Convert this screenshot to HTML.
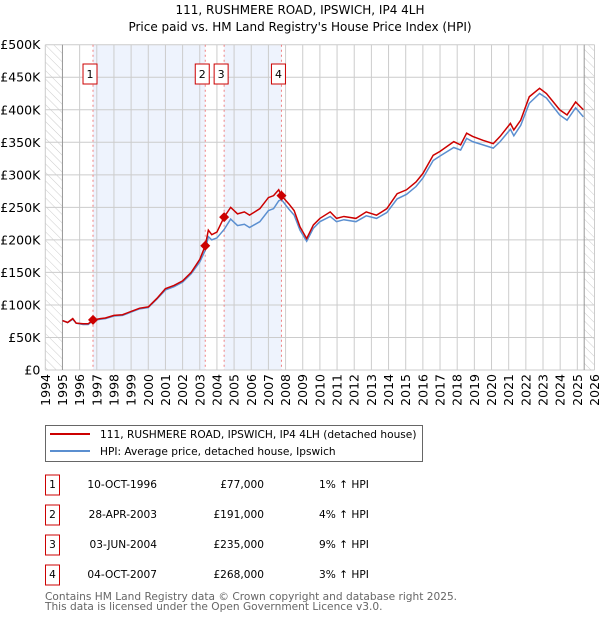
<!DOCTYPE html>
<html><head><meta charset="utf-8"><style>
body{margin:0;background:#fff}
svg{display:block;font-family:"DejaVu Sans","Liberation Sans",sans-serif}
</style></head><body>
<svg id="c" width="600" height="620" viewBox="0 0 600 620">
<defs><pattern id="hatch" width="6" height="6" patternUnits="userSpaceOnUse" patternTransform="rotate(-45)"><line x1="0" y1="0" x2="0" y2="6" stroke="#ccc" stroke-width="1"/></pattern></defs>
<text x="300" y="14" text-anchor="middle" font-size="12">111, RUSHMERE ROAD, IPSWICH, IP4 4LH</text>
<text x="300" y="31" text-anchor="middle" font-size="12">Price paid vs. HM Land Registry's House Price Index (HPI)</text>
<g id="plot"></g>
<rect x="45.5" y="425.5" width="377" height="36" fill="#fff" stroke="#666"/>
<line x1="50" y1="434" x2="90" y2="434" stroke="#cc0000" stroke-width="2"/>
<text x="100" y="438" font-size="10.6">111, RUSHMERE ROAD, IPSWICH, IP4 4LH (detached house)</text>
<line x1="50" y1="451" x2="90" y2="451" stroke="#5b8fd0" stroke-width="2"/>
<text x="100" y="455" font-size="10.6">HPI: Average price, detached house, Ipswich</text>
<g id="table" font-size="10.6"></g>
<text x="45" y="600" font-size="10.6" fill="#666">Contains HM Land Registry data © Crown copyright and database right 2025.</text>
<text x="45" y="610" font-size="10.6" fill="#666">This data is licensed under the Open Government Licence v3.0.</text>
</svg>
<script>
const redYears=[1995,1995.3,1995.6,1995.8,1996.2,1996.5,1996.78,1997.2,1997.5,1998,1998.5,1999,1999.5,2000,2000.5,2001,2001.5,2002,2002.5,2003,2003.32,2003.5,2003.7,2004,2004.42,2004.8,2005.2,2005.6,2005.9,2006.5,2007,2007.3,2007.6,2007.76,2008.2,2008.5,2008.84,2009.23,2009.62,2010.0,2010.6,2010.97,2011.4,2012.1,2012.7,2013.3,2013.9,2014.5,2015.05,2015.6,2016.0,2016.6,2017.0,2017.8,2018.2,2018.55,2018.9,2019.5,2020.1,2020.5,2021.1,2021.3,2021.7,2022.2,2022.8,2023.2,2023.97,2024.4,2024.9,2025.35];
const redVals=[76,73,79,72,71,71,77,79,80,84,85,90,95,97,110,125,130,137,150,170,191,215,208,212,235,250,240,243,238,248,265,268,277,268,255,245,220,202,223,233,243,233,236,233,243,238,248,271,277,289,302,330,336,351,346,364,359,353,348,359,379,369,384,420,433,425,400,392,412,400];
const hpiVals=[76,73,78,72,70,70,76,78,79,83,84,89,94,96,109,123,128,135,148,166,184,205,200,203,216,232,222,224,219,228,245,248,260,262,247,238,215,198,218,228,236,228,231,228,237,233,242,263,270,282,295,322,329,342,338,356,351,346,341,351,370,360,376,410,425,418,392,384,403,389];
const sales=[{n:'1',year:1996.78,val:77},{n:'2',year:2003.32,val:191},{n:'3',year:2004.42,val:235},{n:'4',year:2007.76,val:268}];
const saleDates=['10-OCT-1996','28-APR-2003','03-JUN-2004','04-OCT-2007'];
const salePrices=['£77,000','£191,000','£235,000','£268,000'];
const saleHpi=['1% ↑ HPI','4% ↑ HPI','9% ↑ HPI','3% ↑ HPI'];
const yTicks=[0,50,100,150,200,250,300,350,400,450,500];
const yTickLabels=['£0','£50K','£100K','£150K','£200K','£250K','£300K','£350K','£400K','£450K','£500K'];
const xYears=[1994,1995,1996,1997,1998,1999,2000,2001,2002,2003,2004,2005,2006,2007,2008,2009,2010,2011,2012,2013,2014,2015,2016,2017,2018,2019,2020,2021,2022,2023,2024,2025,2026];

const NS='http://www.w3.org/2000/svg';
const L=45.3,R=594.5,T=44.7,B=370;
const xs=y=>L+(y-1994)*(R-L)/32;
const ys=v=>B-v*(B-T)/500;
const plot=document.getElementById('plot');
function mk(tag,attrs,parent){const e=document.createElementNS(NS,tag);for(const k in attrs)e.setAttribute(k,attrs[k]);(parent||plot).appendChild(e);return e;}
let e;
e=mk('rect',{x:L,y:T,width:R-L,height:B-T,fill:'#fff'});


e=mk('rect',{x:xs(sales[0].year),y:T,width:xs(sales[1].year)-xs(sales[0].year),height:B-T,fill:'#eef3fd'});


e=mk('rect',{x:xs(sales[2].year),y:T,width:xs(sales[3].year)-xs(sales[2].year),height:B-T,fill:'#eef3fd'});


e=mk('rect',{x:L,y:T,width:xs(1995)-L,height:B-T,fill:'url(#hatch)'});


e=mk('rect',{x:xs(2025.4),y:T,width:R-xs(2025.4),height:B-T,fill:'url(#hatch)'});


yTicks.forEach((v,i)=>{
  e=mk('line',{x1:L,x2:R,y1:ys(v),y2:ys(v),stroke:'#ccc','stroke-width':1});
  
  
  e=mk('text',{x:L-5,y:ys(v)+4.5,'text-anchor':'end','font-size':12.5});
  e.textContent=yTickLabels[i];
  
  
});
xYears.forEach(yr=>{
  e=mk('line',{x1:xs(yr),x2:xs(yr),y1:T,y2:B,stroke:'#ccc','stroke-width':1});
  
  
  e=mk('text',{x:xs(yr)+4.5,y:B+4,'text-anchor':'end','font-size':12.5,transform:`rotate(-90 ${xs(yr)+4.5} ${B+4})`});
  e.textContent=yr;
  
  
});
e=mk('line',{x1:xs(1995),x2:xs(1995),y1:T,y2:B,stroke:'#999'});


e=mk('line',{x1:xs(2025.4),x2:xs(2025.4),y1:T,y2:B,stroke:'#999'});


sales.forEach(s=>{
  e=mk('line',{x1:xs(s.year),x2:xs(s.year),y1:T,y2:B,stroke:'#f08080','stroke-dasharray':'2,3'});
  
  
  e=mk('rect',{x:xs(s.year)-10,y:64,width:14,height:20,fill:'#fff',stroke:'#cc0000'});
  
  
  e=mk('text',{x:xs(s.year)-3,y:78,'text-anchor':'middle','font-size':11});
  e.textContent=s.n;
  
  
});
e=mk('polyline',{points:redYears.map((y,i)=>xs(y)+','+ys(hpiVals[i])).join(' '),fill:'none',stroke:'#5b8fd0','stroke-width':1.5});


e=mk('polyline',{points:redYears.map((y,i)=>xs(y)+','+ys(redVals[i])).join(' '),fill:'none',stroke:'#cc0000','stroke-width':1.5});


sales.forEach(s=>{
  const cx=xs(s.year),cy=ys(s.val);
  e=mk('polygon',{points:`${cx},${cy-5} ${cx+5},${cy} ${cx},${cy+5} ${cx-5},${cy}`,fill:'#cc0000'});
  
  
});
const tb=document.getElementById('table');
sales.forEach((s,i)=>{
  const y=485+i*30;
  e=mk('rect',{x:45.5,y:y-10,width:14,height:20,fill:'#fff',stroke:'#cc0000'},tb);
  
  
  e=mk('text',{x:52.5,y:y+3,'text-anchor':'middle'},tb);e.textContent=s.n;
  
  
  e=mk('text',{x:157,y:y+3,'text-anchor':'end'},tb);e.textContent=saleDates[i];
  
  
  e=mk('text',{x:264,y:y+3,'text-anchor':'end'},tb);e.textContent=salePrices[i];
  
  
  e=mk('text',{x:319,y:y+3},tb);e.textContent=saleHpi[i];
  
  
});
</script>
</body></html>
